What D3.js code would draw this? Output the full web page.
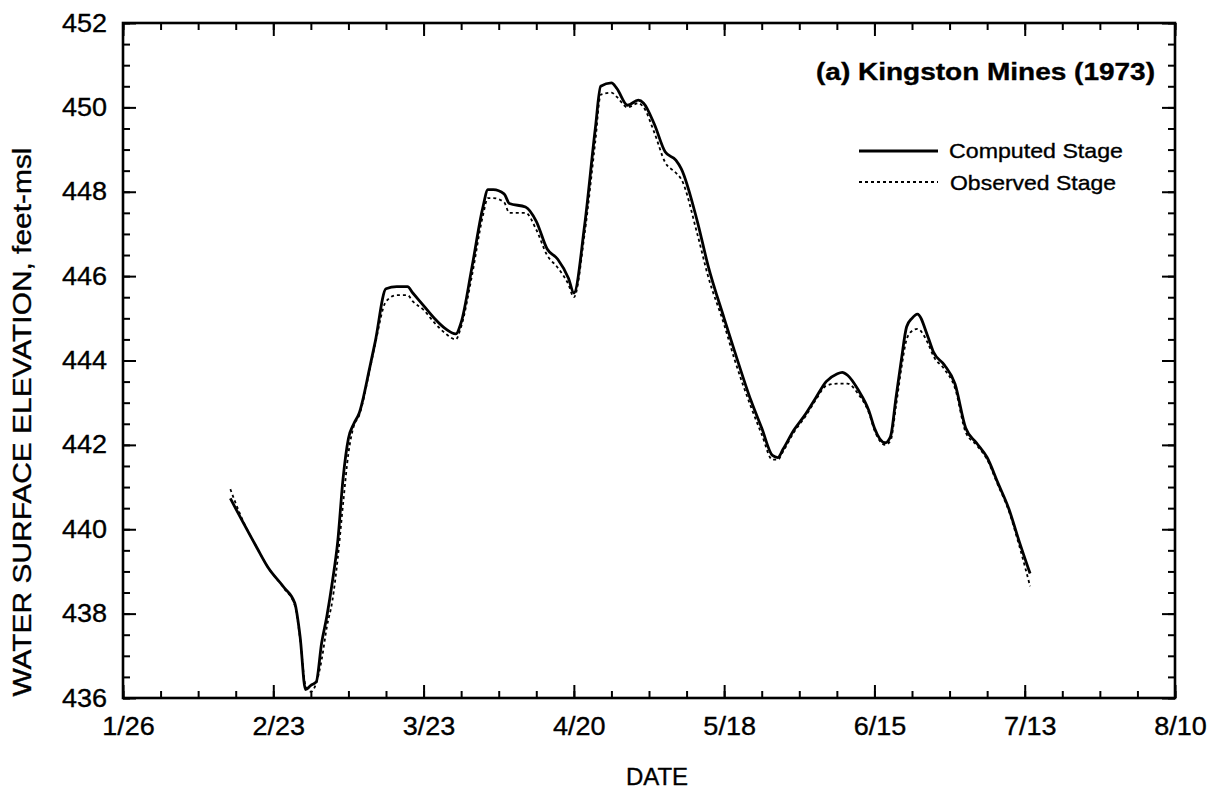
<!DOCTYPE html>
<html><head><meta charset="utf-8">
<script src="https://cdn.jsdelivr.net/npm/d3@7"></script>
<style>
body{margin:0;background:#fff}
svg{display:block}
text{font-family:"Liberation Sans",Arial,Helvetica,sans-serif;fill:#000;stroke:#000;stroke-width:0.35px}
</style>
</head><body>
<svg id="chart" width="1220" height="792"></svg>
<script>
// ---------- data ----------
const dates = ["2/15","2/17","2/20","2/22","2/25","2/27","2/28","3/1","3/2","3/3","3/4","3/5","3/6","3/7","3/8","3/9","3/10","3/11","3/13","3/14","3/16","3/18","3/20","3/21","3/23","3/25","3/27","3/29","3/30","4/1","4/3","4/4","4/5","4/7","4/8","4/11","4/13","4/15","4/17","4/19","4/20","4/22","4/24","4/25","4/27","4/28","4/30","5/2","5/3","5/5","5/7","5/9","5/10","5/13","5/15","5/18","5/20","5/23","5/25","5/27","5/28","5/29","5/31","6/2","6/4","6/6","6/8","6/9","6/10","6/12","6/14","6/15","6/17","6/18","6/19","6/20","6/21","6/22","6/23","6/25","6/26","6/28","6/30","7/2","7/4","7/6","7/8","7/10","7/12","7/14"];
const computedStage = [440.73,440.25,439.55,439.10,438.62,438.25,437.45,436.2,436.3,436.38,437.3,437.95,438.75,439.7,441.2,442.15,442.5,442.75,443.85,444.45,445.7,445.75,445.75,445.6,445.3,445.0,444.76,444.63,444.9,446.2,447.6,448.05,448.05,447.95,447.72,447.64,447.3,446.65,446.4,445.95,445.6,447.2,449.5,450.5,450.58,450.45,450.05,450.17,450.1,449.6,448.95,448.75,448.55,447.3,446.25,445.0,444.2,443.05,442.4,441.75,441.7,441.9,442.35,442.7,443.1,443.5,443.68,443.72,443.65,443.3,442.8,442.4,442.05,442.2,443.1,444.0,444.8,445.0,445.1,444.55,444.2,443.9,443.45,442.4,442.05,441.7,441.1,440.5,439.7,438.95];
const observedStage = [440.95,440.3,439.55,439.1,438.6,438.2,437.4,436.3,436.15,436.35,436.9,437.7,438.3,439.3,440.6,441.8,442.45,442.7,443.8,444.4,445.4,445.55,445.55,445.4,445.2,444.9,444.65,444.5,444.8,446.0,447.4,447.85,447.85,447.75,447.5,447.5,447.1,446.5,446.2,445.8,445.5,447.0,449.2,450.3,450.35,450.25,450.0,450.1,450.0,449.4,448.7,448.45,448.3,447.0,446.0,444.85,444.0,442.9,442.25,441.65,441.65,441.85,442.3,442.65,443.05,443.4,443.45,443.45,443.45,443.2,442.75,442.35,442.0,442.1,442.9,443.8,444.5,444.7,444.75,444.4,444.1,443.8,443.35,442.3,442.0,441.65,441.05,440.45,439.6,438.65];
const xTickLabels = ["1/26","2/23","3/23","4/20","5/18","6/15","7/13","8/10"];
const yTickValues = [436,438,440,442,444,446,448,450,452];
const seriesNames = ["Computed Stage","Observed Stage"];
const chartTitle = "(a) Kingston Mines (1973)";
const xAxisTitle = "DATE";
const yAxisTitle = "WATER SURFACE ELEVATION, feet-msl";

// ---------- setup ----------
const parse = s => { const [m,d] = s.split("/").map(Number); return new Date(Date.UTC(1973, m-1, d)); };
const fmt = d => (d.getUTCMonth()+1) + "/" + d.getUTCDate();
const L = 123, R = 1175, T = 23, B = 698;
const svg = d3.select("#chart");

const x = d3.scaleUtc().domain([parse(xTickLabels[0]), parse(xTickLabels[xTickLabels.length-1])]).range([L, R]);
const y = d3.scaleLinear().domain([yTickValues[0], yTickValues[yTickValues.length-1]]).range([B, T]);

const startDate = x.domain()[0];
const totalDays = Math.round((x.domain()[1] - startDate) / 864e5);
const minorX = d3.range(0, totalDays + 1, 7).map(k => d3.utcDay.offset(startDate, k));
const majorX = xTickLabels.map(parse);
const minorY = d3.range(yTickValues[0], yTickValues[yTickValues.length-1] + 0.001, 0.5);

const MAJ = 13, MIN = 7;
function styleAxis(g){ g.select(".domain").remove(); g.selectAll("line").attr("stroke","#000").attr("stroke-width",2); }

// bottom
svg.append("g").attr("transform",`translate(0,${B})`)
  .call(d3.axisBottom(x).tickValues(minorX).tickSize(-MIN).tickFormat("")).call(styleAxis);
svg.append("g").attr("class","xmaj").attr("transform",`translate(0,${B})`)
  .call(d3.axisBottom(x).tickValues(majorX).tickSize(-MAJ).tickPadding(19).tickFormat(fmt)).call(styleAxis);
// top
svg.append("g").attr("transform",`translate(0,${T})`)
  .call(d3.axisTop(x).tickValues(minorX).tickSize(-MIN).tickFormat("")).call(styleAxis);
svg.append("g").attr("transform",`translate(0,${T})`)
  .call(d3.axisTop(x).tickValues(majorX).tickSize(-MAJ).tickFormat("")).call(styleAxis);
// left
svg.append("g").attr("transform",`translate(${L},0)`)
  .call(d3.axisLeft(y).tickValues(minorY).tickSize(-MIN).tickFormat("")).call(styleAxis);
svg.append("g").attr("class","ymaj").attr("transform",`translate(${L},0)`)
  .call(d3.axisLeft(y).tickValues(yTickValues).tickSize(-MAJ).tickPadding(16).tickFormat(d3.format("d"))).call(styleAxis);
// right
svg.append("g").attr("transform",`translate(${R},0)`)
  .call(d3.axisRight(y).tickValues(minorY).tickSize(-MIN).tickFormat("")).call(styleAxis);
svg.append("g").attr("transform",`translate(${R},0)`)
  .call(d3.axisRight(y).tickValues(yTickValues).tickSize(-MAJ).tickFormat("")).call(styleAxis);

svg.selectAll(".xmaj text, .ymaj text")
  .style("font-family",'"Liberation Sans",Arial,sans-serif').style("font-size","25px").attr("fill","#000");
svg.selectAll(".xmaj text").attr("dx", 5);

// frame
svg.append("rect").attr("x",L).attr("y",T).attr("width",R-L).attr("height",B-T)
  .attr("fill","none").attr("stroke","#000").attr("stroke-width",2.6);

// ---------- lines ----------
const pts = vals => dates.map((d,i) => [parse(d), vals[i]]);
const line = d3.line().x(d => x(d[0])).y(d => y(d[1])).curve(d3.curveMonotoneX);

svg.append("path").datum(pts(observedStage)).attr("d", line)
  .attr("fill","none").attr("stroke","#000").attr("stroke-width",1.8).attr("stroke-dasharray","3,3");
svg.append("path").datum(pts(computedStage)).attr("d", line)
  .attr("fill","none").attr("stroke","#000").attr("stroke-width",2.8).attr("stroke-linejoin","round");

// ---------- legend ----------
const lg = svg.append("g");
lg.append("line").attr("x1",859).attr("x2",938).attr("y1",151).attr("y2",151)
  .attr("stroke","#000").attr("stroke-width",2.8);
lg.append("text").attr("x",949).attr("y",158).style("font-size","21px")
  .attr("textLength",174).attr("lengthAdjust","spacingAndGlyphs").text(seriesNames[0]);
lg.append("line").attr("x1",859).attr("x2",938).attr("y1",182).attr("y2",182)
  .attr("stroke","#000").attr("stroke-width",1.8).attr("stroke-dasharray","3,3");
lg.append("text").attr("x",950).attr("y",190).style("font-size","21px")
  .attr("textLength",166).attr("lengthAdjust","spacingAndGlyphs").text(seriesNames[1]);

// ---------- titles ----------
svg.append("text").attr("x",1155).attr("y",80).attr("text-anchor","end")
  .style("font-size","23px").style("font-weight","bold")
  .attr("textLength",339).attr("lengthAdjust","spacingAndGlyphs").text(chartTitle);
svg.append("text").attr("x",657).attr("y",785).attr("text-anchor","middle")
  .style("font-size","24px").text(xAxisTitle);
svg.append("text").attr("transform","translate(31,422) rotate(-90)").attr("text-anchor","middle")
  .style("font-size","25px").attr("textLength",549).attr("lengthAdjust","spacingAndGlyphs").text(yAxisTitle);

// widen tick glyphs slightly to match the original typeface
svg.selectAll(".xmaj text, .ymaj text").each(function(){
  const w = this.getComputedTextLength();
  d3.select(this).attr("textLength", w*1.08).attr("lengthAdjust","spacingAndGlyphs");
});
</script>
</body></html>
